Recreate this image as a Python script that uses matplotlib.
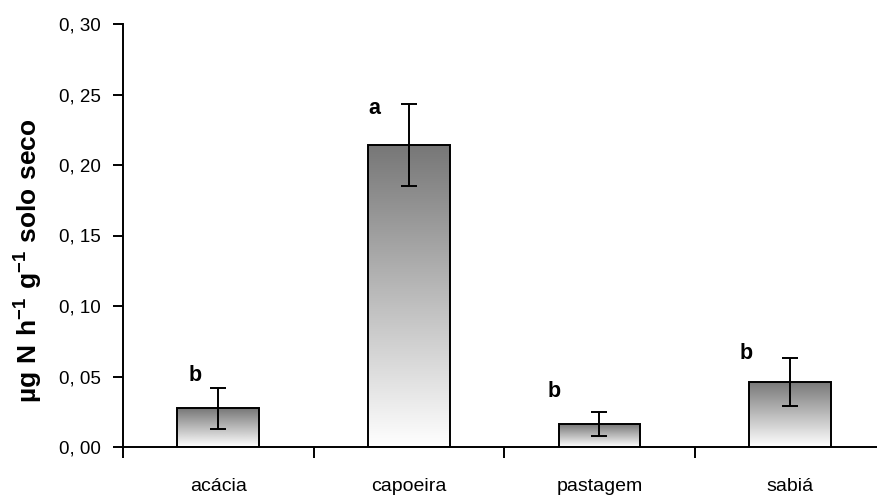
import numpy as np
import matplotlib
matplotlib.use("Agg")
import matplotlib.pyplot as plt
from matplotlib.ticker import FuncFormatter

plt.rcParams['font.family'] = ['Liberation Sans', 'DejaVu Sans']
plt.rcParams['mathtext.fontset'] = 'custom'
plt.rcParams['mathtext.rm'] = 'Liberation Sans'
plt.rcParams['mathtext.bf'] = 'Liberation Sans:bold'

# dados
categorias = ['acácia', 'capoeira', 'pastagem', 'sabiá']
medias = [0.0274, 0.2140, 0.0161, 0.0463]
erros = [0.0146, 0.0290, 0.0084, 0.0169]
letras = ['b', 'a', 'b', 'b']

fig = plt.figure(figsize=(8.77, 4.99), dpi=100)
ax = fig.add_axes([123 / 877, 52 / 499, 754 / 877, 423 / 499])

x = np.arange(len(categorias))
largura = 0.43

# gradiente: cinza escuro no topo, branco embaixo
grad = np.linspace(0, 1, 256).reshape(-1, 1)
cmap = matplotlib.colors.LinearSegmentedColormap.from_list('g', ['#ffffff', '#777777'])

bars = ax.bar(x, medias, width=largura, facecolor='none', edgecolor='black',
              linewidth=1.4, zorder=3)
for b in bars:
    x0, y0 = b.get_x(), b.get_y()
    w, h = b.get_width(), b.get_height()
    im = ax.imshow(grad, extent=[x0, x0 + w, y0, y0 + h], origin='lower',
                   cmap=cmap, aspect='auto', zorder=2)
    im.set_clip_path(b)

ax.errorbar(x, medias, yerr=erros, fmt='none', ecolor='black', elinewidth=1.4,
            capsize=6, capthick=1.4, zorder=4)

# letras de significancia
dx = [-0.12, -0.18, -0.24, -0.23]
dy = [0.009, -0.003, 0.015, 0.003]
for i, l in enumerate(letras):
    ax.text(x[i] + dx[i], medias[i] + erros[i] + dy[i], l, ha='center', va='center',
            fontsize=15.5, fontweight='bold')

ax.set_xlim(-0.5, -0.5 + 754 / 190.6)
ax.set_ylim(0, 0.30)
ax.set_yticks(np.arange(0, 0.301, 0.05))
ax.yaxis.set_major_formatter(FuncFormatter(lambda v, p: f'{v:.2f}'.replace('.', ', ')))
ax.set_xticks(x)
ax.set_xticklabels(categorias)
ax.tick_params(axis='x', which='major', length=0, pad=22, labelsize=14)
ax.set_xticks([-0.5, 0.5, 1.5, 2.5], minor=True)
ax.tick_params(axis='x', which='minor', length=8, width=1.4, direction='out')
ax.tick_params(axis='y', length=7, width=1.4, labelsize=13.5, pad=9)

for s in ['top', 'right']:
    ax.spines[s].set_visible(False)
for s in ['left', 'bottom']:
    ax.spines[s].set_linewidth(1.4)

ax.set_ylabel(r'$\mathbf{µg\ N\ h^{-1}\ g^{-1}\ solo\ seco}$', fontsize=19)
ax.yaxis.set_label_coords(-0.103, 0.44)

fig.savefig('out.png', dpi=100)
